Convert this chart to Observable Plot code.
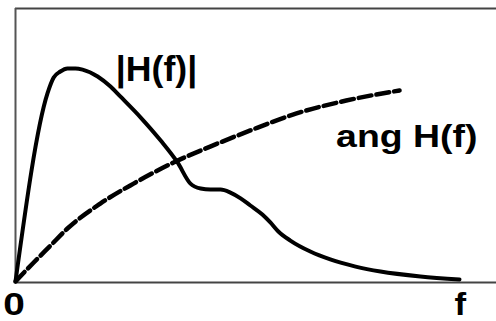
<!DOCTYPE html>
<html>
<head>
<meta charset="utf-8">
<script src="https://cdn.jsdelivr.net/npm/d3@7"></script>
<script src="https://cdn.jsdelivr.net/npm/@observablehq/plot@0.6"></script>
<style>
  html, body { margin: 0; padding: 0; background: #fff; }
  svg { display: block; }
</style>
</head>
<body>
<div id="chart"></div>
<script>
// |H(f)| (normalized frequency, normalized magnitude)
const magF = [0, 0.072, 0.086, 0.101, 0.117, 0.135, 0.151, 0.185, 0.214, 0.236, 0.282, 0.327, 0.365, 0.394, 0.417, 0.439, 0.462, 0.484, 0.507, 0.529, 0.556, 0.574, 0.592, 0.619, 0.664, 0.709, 0.766, 0.822, 0.912, 1.0];
const magH = [0.004, 0.690, 0.748, 0.770, 0.781, 0.781, 0.777, 0.752, 0.715, 0.679, 0.602, 0.518, 0.438, 0.361, 0.343, 0.339, 0.339, 0.328, 0.307, 0.281, 0.248, 0.219, 0.186, 0.153, 0.113, 0.084, 0.058, 0.040, 0.022, 0.011];
// ang H(f)
const angF = [0, 0.041, 0.079, 0.117, 0.191, 0.266, 0.356, 0.455, 0.529, 0.633, 0.745, 0.865];
const angH = [0.004, 0.073, 0.135, 0.197, 0.288, 0.361, 0.438, 0.507, 0.555, 0.617, 0.664, 0.701];
// labels
const curveLabels = ["|H(f)|", "ang H(f)"];
const curveLabelF = [0.226, 0.722];
const curveLabelY = [0.778, 0.5336];
const axisLabels = ["0", "f"];
const axisLabelF = [-0.003, 1.002];
const axisLabelY = -0.0806;

const mag = magF.map((f, i) => ({f, v: magH[i]}));
const ang = angF.map((f, i) => ({f, v: angH[i]}));
const cl = curveLabels.map((t, i) => ({t, f: curveLabelF[i], v: curveLabelY[i]}));
const al = axisLabels.map((t, i) => ({t, f: axisLabelF[i], v: axisLabelY}));

const font = "'Liberation Sans', Arial, sans-serif";
const xRight = (496 - 15) / 444;

const plot = Plot.plot({
  width: 496,
  height: 321,
  marginTop: 0, marginBottom: 0, marginLeft: 0, marginRight: 0,
  x: {domain: [0, 1], range: [15, 459], axis: null},
  y: {domain: [0, 1], range: [282, 8], axis: null},
  style: {background: "#fff", fontFamily: font},
  marks: [
    Plot.ruleY([0, 1], {x1: 0, x2: xRight, stroke: "#444", strokeWidth: 2}),
    Plot.ruleX([0], {y1: 0, y2: 1, stroke: "#555", strokeWidth: 2}),
    Plot.line(ang, {x: "f", y: "v", curve: "monotone-x", stroke: "#000", strokeWidth: 4.5, strokeDasharray: "13,5"}),
    Plot.line(mag, {x: "f", y: "v", curve: "monotone-x", stroke: "#000", strokeWidth: 4, strokeLinejoin: "round"}),
    Plot.text(cl, {x: "f", y: "v", text: "t", textAnchor: "start", fontSize: (d) => d.t === "|H(f)|" ? 35 : 32, fontWeight: "bold", fill: "#000", className: "clab"}),
    Plot.text(al, {x: "f", y: "v", text: "t", textAnchor: "middle", fontSize: 31, fontWeight: "bold", fill: "#000", className: "alab"})
  ]
});
document.getElementById("chart").appendChild(plot);

// horizontal stretch of the label glyphs, as in the reference
const stretch = {"|H(f)|": 1.02, "ang H(f)": 1.17, "0": 1.25, "f": 1.12};
d3.select(plot).selectAll(".clab text, .alab text").each(function() {
  const t = this.textContent;
  const k = stretch[t] || 1;
  const w = this.getComputedTextLength();
  this.setAttribute("textLength", (w * k).toFixed(1));
  this.setAttribute("lengthAdjust", "spacingAndGlyphs");
});
</script>
</body>
</html>
